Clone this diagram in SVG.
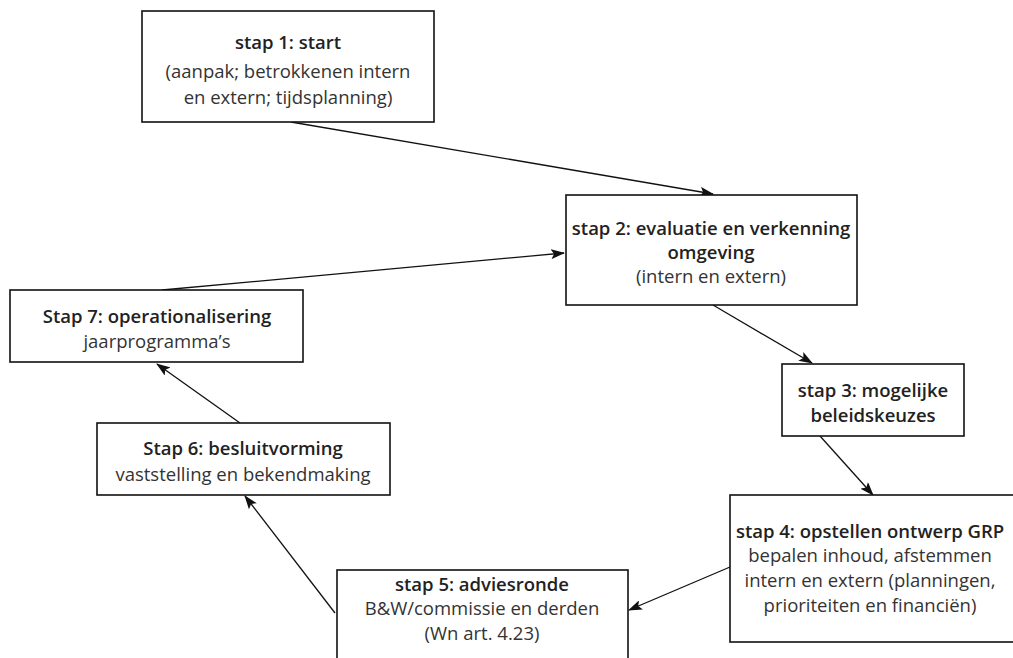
<svg xmlns="http://www.w3.org/2000/svg" width="1013" height="658" viewBox="0 0 1013 658">
<defs>
<style>
.box{fill:#fff;stroke:#111;stroke-width:1.6}
.h{font-family:"Open Sans","Liberation Sans",sans-serif;font-weight:600;font-size:18.5px;fill:#222;text-anchor:middle}
.t{font-family:"Open Sans","Liberation Sans",sans-serif;font-weight:400;font-size:18.5px;fill:#333;text-anchor:middle}
.c{fill:none;stroke:#111;stroke-width:1.3;marker-end:url(#ah)}
</style>
<marker id="ah" viewBox="0 0 14 10" refX="13" refY="5" markerWidth="14" markerHeight="10" markerUnits="userSpaceOnUse" orient="auto">
<path d="M0,0 L14,5 L0,10 L3,5 z" fill="#111"/>
</marker>
</defs>
<rect width="1013" height="658" fill="#fff"/>
<g id="connectors">
<line class="c" x1="291" y1="122" x2="713" y2="194"/>
<line class="c" x1="162" y1="290" x2="564" y2="253"/>
<line class="c" x1="713" y1="305" x2="812" y2="363"/>
<line class="c" x1="820" y1="436" x2="873" y2="495"/>
<line class="c" x1="730" y1="567" x2="629" y2="610"/>
<line class="c" x1="335" y1="613" x2="245" y2="496"/>
<line class="c" x1="240" y1="423" x2="157" y2="364"/>
</g>
<g id="step1">
<rect class="box" x="142" y="11" width="292" height="111"/>
<text class="h" x="288" y="49">stap 1: start</text>
<text class="t" x="288" y="78">(aanpak; betrokkenen intern</text>
<text class="t" x="288" y="104">en extern; tijdsplanning)</text>
</g>
<g id="step2">
<rect class="box" x="566" y="195" width="291" height="110"/>
<text class="h" x="711" y="235">stap 2: evaluatie en verkenning</text>
<text class="h" x="711" y="259">omgeving</text>
<text class="t" x="711" y="283">(intern en extern)</text>
</g>
<g id="step3">
<rect class="box" x="782" y="364" width="182" height="72"/>
<text class="h" x="873" y="397">stap 3: mogelijke</text>
<text class="h" x="873" y="422">beleidskeuzes</text>
</g>
<g id="step4">
<rect class="box" x="730" y="495" width="300" height="147"/>
<text class="h" x="870" y="538">stap 4: opstellen ontwerp GRP</text>
<text class="t" x="870" y="562">bepalen inhoud, afstemmen</text>
<text class="t" x="870" y="587">intern en extern (planningen,</text>
<text class="t" x="870" y="612">prioriteiten en financiën)</text>
</g>
<g id="step5">
<rect class="box" x="337" y="570" width="291" height="100"/>
<text class="h" x="482" y="591">stap 5: adviesronde</text>
<text class="t" x="482" y="615">B&amp;W/commissie en derden</text>
<text class="t" x="482" y="640">(Wn art. 4.23)</text>
</g>
<g id="step6">
<rect class="box" x="97" y="423" width="293" height="72"/>
<text class="h" x="243" y="455">Stap 6: besluitvorming</text>
<text class="t" x="243" y="481">vaststelling en bekendmaking</text>
</g>
<g id="step7">
<rect class="box" x="10" y="290" width="293" height="72"/>
<text class="h" x="157" y="323">Stap 7: operationalisering</text>
<text class="t" x="157" y="348">jaarprogramma’s</text>
</g>
</svg>
